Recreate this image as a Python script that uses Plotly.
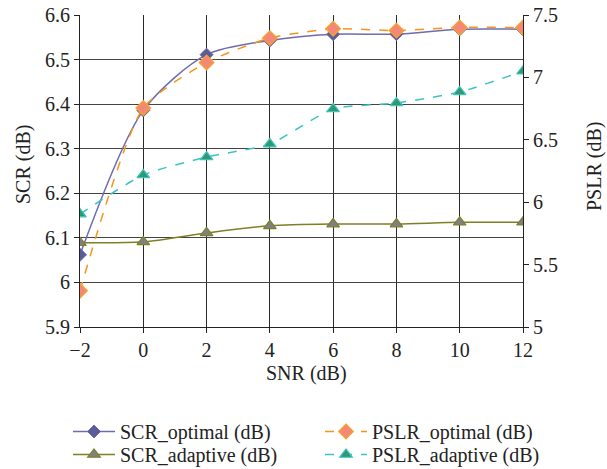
import plotly.graph_objects as go

snr = [-2, 0, 2, 4, 6, 8, 10, 12]
scr_optimal = [6.062, 6.386, 6.511, 6.543, 6.557, 6.557, 6.568, 6.568]
scr_adaptive = [6.089, 6.091, 6.111, 6.127, 6.131, 6.131, 6.135, 6.135]
pslr_optimal = [5.29, 6.755, 7.12, 7.315, 7.39, 7.375, 7.40, 7.40]
pslr_adaptive = [5.905, 6.218, 6.362, 6.466, 6.747, 6.795, 6.883, 7.05]

FONT = "Liberation Serif, Times New Roman, serif"
W, H = 607, 469
L, R, T, B = 80, 84, 15, 142
PW, PH = W - L - R, H - T - B


def px_x(x):
    return (x - L) / PW


def px_y(y):
    return (H - B - y) / PH


fig = go.Figure()
fig.add_trace(go.Scatter(
    x=snr, y=scr_optimal, name="SCR_optimal (dB)", mode="lines+markers", legend="legend",
    line=dict(color="#6c6cae", width=1.5, shape="spline", smoothing=0.8),
    marker=dict(symbol="diamond", size=10, color="#5b5b98", line=dict(color="#6c6cae", width=1)),
))
fig.add_trace(go.Scatter(
    x=snr, y=scr_adaptive, name="SCR_adaptive (dB)", mode="lines+markers", legend="legend2",
    line=dict(color="#7f7f27", width=1.5, shape="spline", smoothing=0.8),
    marker=dict(symbol="triangle-up", size=11, color="#808080", line=dict(color="#7f7f27", width=1.2)),
))
fig.add_trace(go.Scatter(
    x=snr, y=pslr_optimal, name="PSLR_optimal (dB)", mode="lines+markers", yaxis="y2", legend="legend3",
    line=dict(color="#f7941d", width=1.5, dash="dash", shape="spline", smoothing=0.6),
    marker=dict(symbol="diamond", size=11, color="#f4877a", line=dict(color="#f7a030", width=1.5)),
))
fig.add_trace(go.Scatter(
    x=snr, y=pslr_adaptive, name="PSLR_adaptive (dB)", mode="lines+markers", yaxis="y2", legend="legend4",
    line=dict(color="#3ec3c3", width=1.5, dash="dash", shape="spline", smoothing=0.6),
    marker=dict(symbol="triangle-up", size=11, color="#2e9a6e", line=dict(color="#3ec3c3", width=1.2)),
))

leg_common = dict(orientation="v", xref="container", yref="container", xanchor="left", yanchor="top",
                  font=dict(family=FONT, size=20, color="#222"),
                  bgcolor="rgba(0,0,0,0)", tracegroupgap=0, itemwidth=42)
ROW1, ROW2 = 1 - 412 / H, 1 - 435 / H
COL1, COL2 = 68 / W, 320 / W

title_font = dict(family=FONT, size=20, color="#222")
fig.update_layout(
    width=W, height=H,
    margin=dict(l=L, r=R, t=T, b=B, autoexpand=False),
    paper_bgcolor="white", plot_bgcolor="white",
    font=dict(family=FONT, size=20, color="#222"),
    showlegend=True,
    legend=dict(x=COL1, y=ROW1, **leg_common),
    legend2=dict(x=COL1, y=ROW2, **leg_common),
    legend3=dict(x=COL2, y=ROW1, **leg_common),
    legend4=dict(x=COL2, y=ROW2, **leg_common),
    xaxis=dict(range=[-2, 12], tickvals=snr, showgrid=True, gridcolor="#2a2a2a", gridwidth=1,
               zeroline=False, showline=True, linecolor="#222", linewidth=1.2,
               ticks="outside", ticklen=5, tickcolor="#222", automargin=False,
               tickfont=dict(size=20)),
    yaxis=dict(range=[5.9, 6.6], dtick=0.1, tick0=5.9, showgrid=True, gridcolor="#444", gridwidth=1,
               zeroline=False, showline=True, linecolor="#222", linewidth=1.2,
               ticks="outside", ticklen=5, tickcolor="#222", automargin=False,
               tickfont=dict(size=20)),
    yaxis2=dict(range=[5, 7.5], dtick=0.5, tick0=5, overlaying="y", side="right", showgrid=False,
                zeroline=False, showline=True, linecolor="#222", linewidth=1.2,
                ticks="outside", ticklen=5, tickcolor="#222", automargin=False,
                tickfont=dict(size=20)),
    annotations=[
        dict(text="SCR (dB)", xref="paper", yref="paper", x=px_x(23), y=px_y(165),
             textangle=-90, showarrow=False, font=title_font, xanchor="center", yanchor="middle"),
        dict(text="PSLR (dB)", xref="paper", yref="paper", x=px_x(594), y=px_y(167),
             textangle=-90, showarrow=False, font=title_font, xanchor="center", yanchor="middle"),
        dict(text="SNR (dB)", xref="paper", yref="paper", x=px_x(306), y=px_y(373),
             showarrow=False, font=title_font, xanchor="center", yanchor="middle"),
    ],
)

fig.write_html("out.html", config={"displayModeBar": False},
               post_script="document.body.style.margin='0';")
